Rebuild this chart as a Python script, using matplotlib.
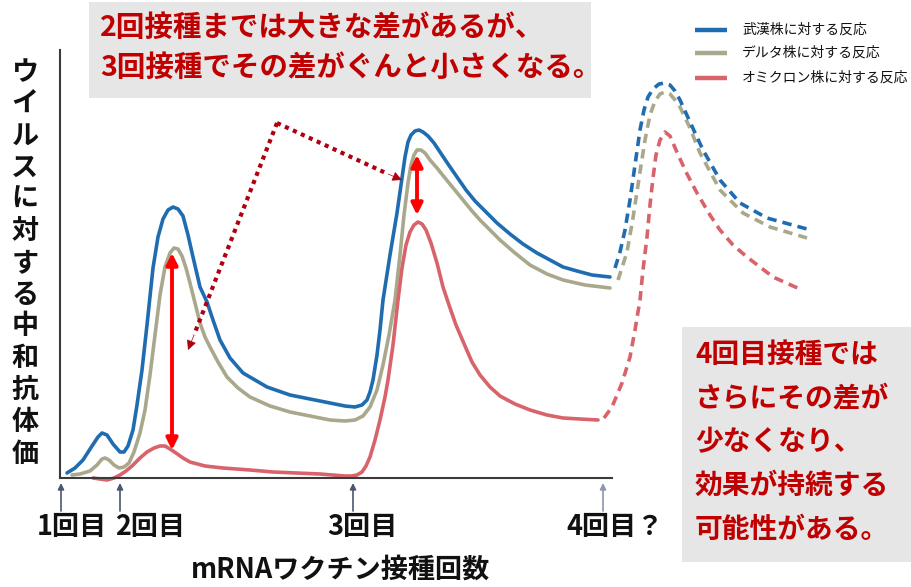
import matplotlib
matplotlib.use("Agg")
import matplotlib.pyplot as plt
from matplotlib.patches import Rectangle

plt.rcParams['font.family'] = ['Noto Sans CJK JP', 'DejaVu Sans']

# ---------------- data (time units, titer units) ----------------
wuhan_t = [7, 15, 23, 32, 38, 42, 47, 53, 60, 64, 68, 73, 77, 82, 87, 93, 98, 103, 108, 113,
           118, 123, 128, 133, 140, 147, 153, 160, 170, 183, 207, 230, 250, 270, 285, 295, 302, 307, 310, 313,
           317, 320, 323, 330, 337, 342, 345, 348, 351, 355, 359, 363, 368, 374, 380, 388, 397, 406, 415, 425,
           437, 450, 463, 477, 490, 503, 517, 532, 550]
wuhan_v = [5, 10, 18, 32, 41, 45, 43, 34, 26, 26, 32, 48, 73, 108, 153, 210, 241, 259, 268, 271,
           269, 262, 243, 221, 191, 176, 158, 138, 120, 105, 91, 83, 79, 75, 72, 71, 73, 78, 86, 98,
           123, 148, 178, 223, 265, 300, 321, 336, 343, 347, 348, 346, 342, 335, 326, 314, 301, 288, 277, 267,
           255, 244, 234, 225, 218, 211, 207, 203, 201]
wuhan_pred_t = [550, 555, 560, 565, 570, 575, 580, 584, 588, 593, 599, 605, 610, 615, 620, 630, 643, 660, 680, 707, 747]
wuhan_pred_v = [201, 210, 226, 248, 278, 313, 348, 368, 381, 389, 394, 395, 393, 387, 378, 356, 328, 298, 275, 260, 249]

delta_t = [12, 20, 30, 37, 42, 45, 49, 54, 59, 64, 69, 74, 80, 85, 90, 95, 100, 105, 110, 114,
           118, 122, 126, 130, 135, 140, 145, 150, 158, 167, 178, 190, 210, 230, 250, 270, 285, 295, 303, 310,
           317, 323, 329, 335, 340, 344, 348, 351, 354, 357, 361, 365, 370, 377, 385, 394, 403, 412, 420, 430,
           440, 455, 470, 487, 503, 525, 550]
delta_v = [3, 4, 7, 13, 19, 20, 18, 13, 10, 11, 15, 26, 45, 68, 103, 143, 183, 211, 225, 230,
           229, 222, 210, 195, 175, 155, 141, 131, 116, 101, 90, 81, 72, 66, 62, 58, 57, 58, 62, 71,
           88, 113, 143, 178, 223, 263, 295, 313, 323, 328, 328, 325, 318, 310, 300, 289, 278, 267, 258, 248,
           238, 225, 213, 204, 198, 193, 190]
delta_pred_t = [550, 558, 567, 573, 580, 585, 590, 595, 600, 605, 610, 615, 620, 630, 640, 660, 683, 710, 747]
delta_pred_v = [190, 198, 226, 260, 306, 338, 363, 377, 384, 386, 384, 378, 371, 350, 325, 288, 265, 251, 240]

omi_t = [33, 40, 47, 54, 60, 66, 72, 80, 87, 94, 100, 105, 110, 116, 123, 130, 145, 163, 190, 213,
         260, 285, 292, 297, 302, 306, 310, 315, 320, 325, 328, 333, 338, 342, 346, 350, 354, 358, 362, 366,
         371, 377, 383, 389, 396, 405, 412, 420, 430, 440, 455, 470, 487, 503, 520, 538]
omi_v = [0, -1, -2, 0, 3, 7, 12, 20, 26, 30, 32, 32, 29, 25, 20, 16, 12, 10, 8, 6,
         4, 2, 2, 3, 6, 12, 21, 38, 58, 81, 98, 133, 178, 210, 233, 246, 253, 256, 254, 248,
         235, 215, 191, 173, 153, 132, 116, 103, 91, 82, 74, 68, 63, 60, 59, 58]
omi_pred_t = [538, 544, 552, 562, 570, 575, 580, 583, 587, 590, 593, 596, 600, 605, 610, 616, 626, 637,
              650, 660, 673, 687, 713, 742]
omi_pred_v = [58, 60, 71, 95, 121, 148, 178, 208, 241, 273, 300, 323, 338, 346, 342, 328, 306, 285,
              263, 248, 233, 221, 201, 188]

dose_t = [1, 60, 293, 543]
dose_labels = ['1回目', '2回目', '3回目', '4回目？']
dose_label_t = [12, 90, 302, 555]

series_names = ['武漢株に対する反応', 'デルタ株に対する反応', 'オミクロン株に対する反応']
ylabel_text = 'ウイルスに対する中和抗体価'
xlabel_text = 'mRNAワクチン接種回数'
note1 = ['2回接種までは大きな差があるが、', '3回接種でその差がぐんと小さくなる。']
note2 = ['4回目接種では', 'さらにその差が', '少なくなり、', '効果が持続する', '可能性がある。']

# ---------------- style ----------------
C_BLUE = '#1f6db0'
C_OLIVE = '#aaa88c'
C_RED = '#d9636a'
C_TEXT_RED = '#c00000'
C_AXIS = '#3a3a3a'

fig = plt.figure(figsize=(9.12, 5.87), dpi=100)
ax = fig.add_axes([0, 0, 1, 1])
ax.set_xlim(-60, 852)
ax.set_ylim(-109, 478)
ax.axis('off')

lw = 2.6
dash = (2.6, 1.7)
kw = dict(lw=lw, solid_capstyle='round', solid_joinstyle='round')
ax.plot(wuhan_t, wuhan_v, color=C_BLUE, zorder=4, **kw)
ax.plot(delta_t, delta_v, color=C_OLIVE, zorder=3, **kw)
ax.plot(omi_t, omi_v, color=C_RED, zorder=3, **kw)
ax.plot(wuhan_pred_t[1:], wuhan_pred_v[1:], color=C_BLUE, lw=lw, dashes=dash, zorder=4)
ax.plot(delta_pred_t[1:], delta_pred_v[1:], color=C_OLIVE, lw=lw, dashes=dash, zorder=3)
ax.plot(omi_pred_t[1:], omi_pred_v[1:], color=C_RED, lw=lw, dashes=dash, zorder=3)

# axes lines
ax.plot([0, 0], [0, 428], color=C_AXIS, lw=1.5, zorder=5)
ax.plot([0, 552], [0, 0], color=C_AXIS, lw=1.5, zorder=5)

# dose arrows
for i, t in enumerate(dose_t):
    col = '#4b5670' if i < 3 else '#8c96ac'
    ax.annotate('', xy=(t, -5), xytext=(t, -33),
                arrowprops=dict(arrowstyle='-|>', color=col, lw=1.2, mutation_scale=9,
                                shrinkA=0, shrinkB=0))
for lab, t in zip(dose_labels, dose_label_t):
    ax.text(t, -49, lab, ha='center', va='center', fontsize=19.5, color='#111111', fontweight='bold')

ax.text(281, -92, xlabel_text, ha='center', va='center', fontsize=19.5, color='#111111', fontweight='bold')

# vertical y label
for i, ch in enumerate(ylabel_text):
    ax.text(-35, 406 - i * 31.8, ch, ha='center', va='center', fontsize=19.5,
            color='#111111', fontweight='bold')

# red double arrows
for (t, v0, v1) in [(112, 225, 28), (357, 323, 263)]:
    ax.annotate('', xy=(t, v1), xytext=(t, v0),
                arrowprops=dict(arrowstyle='<|-|>', color='#ff0000', lw=2.8, mutation_scale=17,
                                shrinkA=0, shrinkB=0), zorder=6)

# dotted pointer arrows
C_DOT = '#b00010'
apex = (217, 355)
for end, pre in [((128, 128), (134, 143)), ((342, 298), (328, 304))]:
    ax.plot([apex[0], pre[0]], [apex[1], pre[1]], color=C_DOT, lw=3,
            linestyle=(0, (1, 1.1)), dash_capstyle='butt', zorder=6)
    ax.annotate('', xy=end, xytext=pre,
                arrowprops=dict(arrowstyle='-|>', color=C_DOT, lw=0.5, mutation_scale=15,
                                shrinkA=0, shrinkB=0), zorder=6)

# note boxes
ax.add_patch(Rectangle((29, 380), 502, 96, facecolor='#e6e6e6', edgecolor='none', zorder=1))
ax.text(40, 450, note1[0], ha='left', va='center', fontsize=20.5, color=C_TEXT_RED, fontweight='bold')
ax.text(40, 410, note1[1], ha='left', va='center', fontsize=20.5, color=C_TEXT_RED, fontweight='bold')

ax.add_patch(Rectangle((622, -84), 240, 235, facecolor='#e6e6e6', edgecolor='none', zorder=1))
for i, line in enumerate(note2):
    ax.text(635, 123 - i * 43.7, line, ha='left', va='center', fontsize=20, color=C_TEXT_RED,
            fontweight='bold')

# legend
for v, col, name in zip([448, 425, 400], [C_BLUE, C_OLIVE, C_RED], series_names):
    ax.plot([635, 667], [v, v], color=col, lw=3.2, solid_capstyle='butt')
    ax.text(682, v, name, ha='left', va='center', fontsize=10, color='#111111')

fig.savefig('out.png', dpi=100)
